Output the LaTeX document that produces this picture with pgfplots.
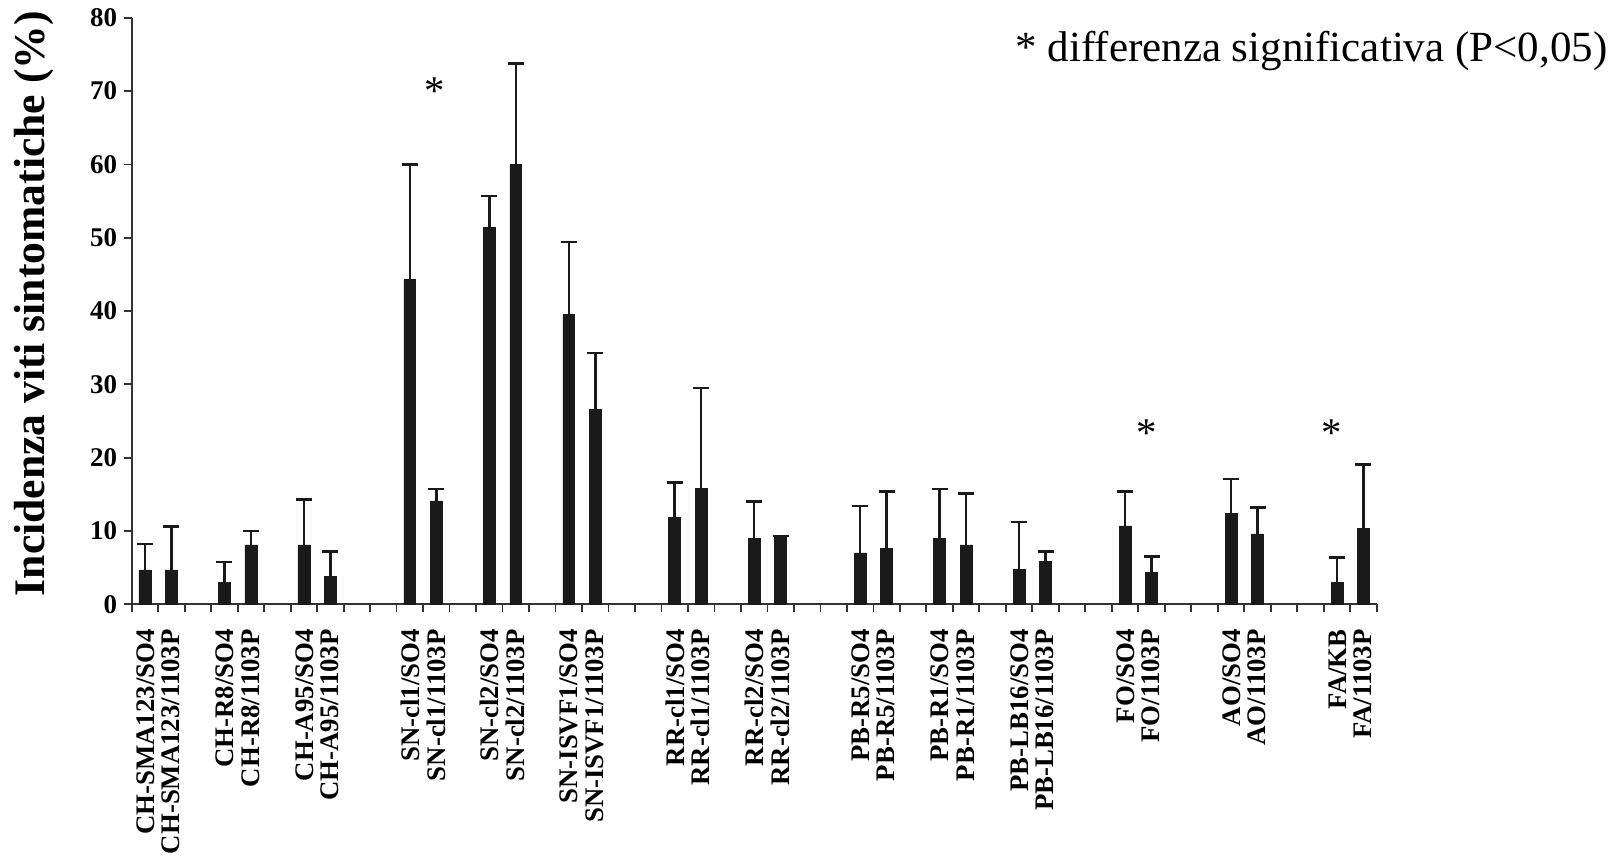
\documentclass[border=0pt]{standalone}
\usepackage{fontspec}
\setmainfont{Liberation Serif}
\usepackage{pgfplots}
\pgfplotsset{compat=1.18}
\definecolor{barc}{HTML}{1A1A1A}
\definecolor{axc}{HTML}{333333}
\begin{document}
\begin{tikzpicture}
\begin{axis}[
  at={(0,0)}, anchor=south west,
  scale only axis, width=622.5pt, height=293.25pt,
  xmin=-0.5, xmax=46.5, ymin=0, ymax=80,
  axis x line*=bottom, axis y line*=left,
  axis line style={axc, line width=0.9pt},
  xtick={-0.5,0.5,...,46.5}, xticklabels={},
  ytick={0,10,...,80},
  tick align=outside, tick style={axc, line width=0.9pt},
  major tick length=3.8pt,
  /pgf/number format/assume math mode=true,
  yticklabel style={font=\bfseries\fontsize{13.5}{15}\selectfont},
  clip=false,
]
\addplot[ybar, bar width=0.45, fill=barc, draw=barc, line width=0.3pt,
  error bars/.cd, y dir=plus, y explicit,
  error bar style={line width=1.25pt, color=barc},
  error mark options={line width=1.25pt, mark size=4pt, rotate=90}]
  table[x=x, y=y, y error=e] {
x y e
0 4.7 3.5
1 4.7 5.9
3 3.0 2.8
4 8.1 1.9
6 8.1 6.2
7 3.8 3.4
10 44.3 15.7
11 14.1 1.6
13 51.4 4.3
14 60.0 13.8
16 39.5 9.9
17 26.6 7.7
20 11.8 4.8
21 15.8 13.7
23 9.0 5.0
24 9.2 0.1
27 7.0 6.4
28 7.6 7.8
30 9.0 6.7
31 8.1 7.0
33 4.8 6.4
34 5.9 1.3
37 10.7 4.7
38 4.4 2.1
41 12.4 4.7
42 9.6 3.6
45 3.0 3.4
46 10.4 8.7
};
\tikzset{xl/.style={rotate=90, anchor=east, align=right, inner sep=0pt, font=\bfseries\fontsize{13.4}{12.8}\selectfont}}
\node[xl] at ([yshift=-12.3pt]axis cs:0.5,0) {CH-SMA123/SO4\\CH-SMA123/1103P};
\node[xl] at ([yshift=-12.3pt]axis cs:3.5,0) {CH-R8/SO4\\CH-R8/1103P};
\node[xl] at ([yshift=-12.3pt]axis cs:6.5,0) {CH-A95/SO4\\CH-A95/1103P};
\node[xl] at ([yshift=-12.3pt]axis cs:10.5,0) {SN-cl1/SO4\\SN-cl1/1103P};
\node[xl] at ([yshift=-12.3pt]axis cs:13.5,0) {SN-cl2/SO4\\SN-cl2/1103P};
\node[xl] at ([yshift=-12.3pt]axis cs:16.5,0) {SN-ISVF1/SO4\\SN-ISVF1/1103P};
\node[xl] at ([yshift=-12.3pt]axis cs:20.5,0) {RR-cl1/SO4\\RR-cl1/1103P};
\node[xl] at ([yshift=-12.3pt]axis cs:23.5,0) {RR-cl2/SO4\\RR-cl2/1103P};
\node[xl] at ([yshift=-12.3pt]axis cs:27.5,0) {PB-R5/SO4\\PB-R5/1103P};
\node[xl] at ([yshift=-12.3pt]axis cs:30.5,0) {PB-R1/SO4\\PB-R1/1103P};
\node[xl] at ([yshift=-12.3pt]axis cs:33.5,0) {PB-LB16/SO4\\PB-LB16/1103P};
\node[xl] at ([yshift=-12.3pt]axis cs:37.5,0) {FO/SO4\\FO/1103P};
\node[xl] at ([yshift=-12.3pt]axis cs:41.5,0) {AO/SO4\\AO/1103P};
\node[xl] at ([yshift=-12.3pt]axis cs:45.5,0) {FA/KB\\FA/1103P};
\tikzset{ast/.style={anchor=base, inner sep=0pt, font=\fontsize{20.4}{24}\selectfont}}
\node[ast] at (axis cs:10.95,68.2) {*};
\node[ast] at (axis cs:37.8,21.5) {*};
\node[ast] at (axis cs:44.8,21.5) {*};
\node[anchor=base west, inner sep=0pt, font=\fontsize{21.5}{24}\selectfont] at (axis cs:32.85,74.0) {* differenza significativa (P<0,05)};
\node[rotate=90, anchor=base, inner sep=0pt, font=\bfseries\fontsize{21.8}{24}\selectfont] at ([xshift=-43.6pt]axis cs:-0.5,41) {Incidenza viti sintomatiche (\%)};
\end{axis}
\pgfresetboundingbox
\useasboundingbox (-65.85pt,-125.85pt) rectangle (743.15pt,302.15pt);
\end{tikzpicture}
\end{document}
